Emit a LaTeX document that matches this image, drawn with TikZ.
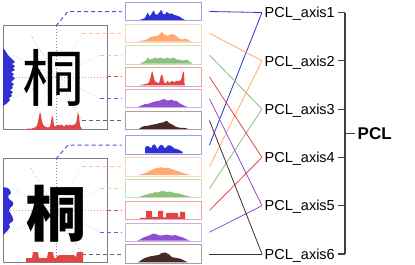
\documentclass[tikz,border=0pt]{standalone}
\usepackage{fontspec}
\setmainfont{Liberation Sans}
\newfontfamily\cjk{Noto Sans CJK SC}
\usetikzlibrary{calc}
\definecolor{cBlue}{HTML}{2F2FD2}
\definecolor{cOrange}{HTML}{FFAA70}
\definecolor{cGreen}{HTML}{8BC17A}
\definecolor{cRed}{HTML}{E04646}
\definecolor{cPurple}{HTML}{8E4FD0}
\definecolor{cBrown}{HTML}{4A2A28}
\newcommand\histo[3]{\begin{scope}[shift={(125,#2+8.4)},yscale=-1]\fill[#1] plot coordinates {#3} -- cycle;\end{scope}}
\begin{document}
\begin{tikzpicture}[x=1pt,y=-1pt,
  histbox/.style={draw, line width=0.9pt, minimum width=76pt, minimum height=18.4pt, inner sep=0pt, anchor=center},
  charbox/.style={draw=black!50, line width=1pt, inner sep=0pt},
  leader/.style={line width=1pt, dash pattern=on 4pt off 3pt},
  ray/.style={line width=0.7pt, dash pattern=on 0.8pt off 2.2pt},
  link/.style={line width=0.8pt},
  axlabel/.style={anchor=west, inner sep=2.5pt, font=\fontsize{14.5}{16}\selectfont, text height=10.4pt, text depth=0pt},
  brk/.style={line width=1.2pt, draw=black!75}]
\useasboundingbox (0,0) rectangle (415,265);

% ---------- top character panel ----------
\node[charbox, minimum width=104pt, minimum height=104.5pt] (ct) at (55,77.25) {};
\draw[ray, cBlue!60] (56,26) -- (56,128);
\draw[ray, cOrange!60] (82,33.3) -- (30,120.5);
\draw[ray, cGreen!60] (100,55.1) -- (12,98.7);
\draw[ray, cRed!60] (107,76.9) -- (5,76.9);
\draw[ray, cPurple!50] (100,98.7) -- (12,55.1);
\draw[ray, cBrown!40] (82,120.5) -- (30,33.3);
\node[font=\cjk\fontsize{62}{62}\selectfont, inner sep=0pt] (gt) at (54,78) {桐};
\fill[cBlue] plot coordinates {(3,48) (5,50) (6,52) (8,55) (11,58) (13,60) (15,62) (12,64) (15,66) (13,68) (15,70) (11,72) (14,74) (12,76) (15,78) (13,80) (11,82) (14,84) (12,86) (13,88) (10,90) (13,92) (11,94) (12,96) (9,98) (10,100) (8,102) (6,104) (3,106)} -- cycle;
\begin{scope}[shift={(0,129.5)},yscale=-1]
\fill[cRed] plot coordinates {(25,0) (28,1) (32,1) (35,2) (37,4) (38,8) (39,13) (40,18) (41,14) (42,8) (43,5) (45,3) (48,2) (50,3) (51,8) (52,14) (53,12) (54,4) (56,3) (58,5) (60,4) (62,5) (64,3) (66,5) (68,4) (70,5) (72,4) (74,5) (76,6) (77,12) (78,17) (79,14) (80,4) (82,0)} -- cycle;
\end{scope}

% ---------- bottom character panel ----------
\node[charbox, minimum width=104pt, minimum height=104pt] (cb) at (55,210) {};
\draw[ray, cBlue!60] (56,159) -- (56,261);
\draw[ray, cOrange!60] (82,166.8) -- (30,254);
\draw[ray, cGreen!60] (100,188.6) -- (12,232.2);
\draw[ray, cRed!60] (107,210.4) -- (5,210.4);
\draw[ray, cPurple!50] (100,232.2) -- (12,188.6);
\draw[ray, cBrown!40] (82,254) -- (30,166.8);
\node[font=\cjk\bfseries\fontsize{60}{60}\selectfont, inner sep=0pt] (gb) at (56,214) {桐};
\begin{scope}[shift={(3,0)}]
\fill[cBlue] plot coordinates {(0,187) (5,188) (7,190) (8,193) (5,196) (6,199) (10,202) (10,205) (7,208) (6,211) (8,214) (10,218) (10,221) (6,224) (7,227) (5,230) (3,232) (0,235)} -- cycle;
\end{scope}
\begin{scope}[shift={(0,262)},yscale=-1]
\fill[cRed] plot coordinates {(26,0) (26,4) (32,4) (33,10) (38,10) (39,4) (47,4) (48,10) (53,10) (54,4) (56,4) (57,6) (60,7) (74,7) (76,5) (77,10) (83,10) (83,0)} -- cycle;
\end{scope}

% ---------- top histograms ----------
\histo{cBlue}{11.5}{(15,0) (18,1) (20,2) (21,4) (22,6) (23,7.5) (24,4) (26,5) (27,7) (28,8.5) (29,9.5) (30,6) (32,5) (34,7) (35,8) (36,10) (37,9) (38,6) (40,5.5) (41,7) (42,8) (43,7) (45,6) (47,6.5) (49,5) (51,4.5) (53,4) (55,3) (57,1.5) (60,0)}
\histo{cOrange}{33.3}{(12,0) (16,1) (20,1.5) (23,3) (26,5) (30,5.5) (33,6) (35,8) (36,9) (37,10) (38,8) (40,7) (42,6) (44,6.5) (46,7) (47,8) (49,7) (51,6) (53,4) (55,3) (57,2) (59,3) (61,3) (63,2) (65,1) (67,0)}
\histo{cGreen}{55.1}{(15,0) (18,1.5) (21,3) (22,5) (23,6) (24,4) (26,4.5) (28,5) (30,6) (32,5) (34,5.5) (36,6) (38,5) (40,5) (42,6) (44,5) (46,5) (48,6) (50,5) (52,4) (54,4) (56,3.5) (58,3) (60,3.5) (62,4) (64,2) (66,1) (67,0)}
\histo{cRed}{76.9}{(15,0) (19,1) (22,1.5) (24,3) (25,6) (26,10) (27,14.5) (28,12) (29,7) (30,4) (32,3) (34,2) (35,6) (36,10) (37,11) (38,8) (39,3) (41,2) (42,4) (43,4.5) (44,2.5) (46,3.5) (47,4.5) (48,4) (50,3) (51,5) (52,4) (54,4.5) (56,5) (57,9) (58,14) (59,13) (59.5,2) (60,0)}
\histo{cPurple}{98.7}{(13,0) (16,1.5) (20,3) (24,3.5) (28,5) (32,6) (35,6.5) (37,7.5) (39,8) (41,7) (43,6.5) (45,7) (47,7.5) (49,6) (51,6.5) (53,5) (56,3) (59,1.5) (63,0)}
\histo{cBrown}{120.5}{(14,0) (17,2) (20,3) (23,3) (26,4) (29,4.5) (32,5) (35,6) (38,6.5) (40,7.5) (42,8) (44,6) (46,5) (48,4) (50,2.5) (53,1.5) (56,1) (60,1) (63,0)}
\node[histbox, draw=cBlue!45] (t1) at (163,11.5) {};
\node[histbox, draw=cOrange!50] (t2) at (163,33.3) {};
\node[histbox, draw=cGreen!50] (t3) at (163,55.1) {};
\node[histbox, draw=cRed!50] (t4) at (163,76.9) {};
\node[histbox, draw=cPurple!45] (t5) at (163,98.7) {};
\node[histbox, draw=cBrown!45] (t6) at (163,120.5) {};

% ---------- bottom histograms ----------
\histo{cBlue}{145}{(20,0) (20,5) (21,7) (23,7.5) (25,6) (26,5) (27,7) (28,8.5) (30,9) (31,7) (32,5) (33,5) (34,7) (36,8.5) (38,8) (39,6) (40,5) (41,6) (43,8) (45,8) (47,7) (49,5) (51,4.5) (53,4) (55,3) (57,2) (58,0)}
\histo{cOrange}{166.8}{(12,0) (16,1) (20,2) (24,4) (28,6) (31,7) (34,7.5) (36,8) (38,7.5) (40,7) (42,7.5) (44,7) (47,6) (50,5) (53,4) (56,3) (59,2) (62,1) (67,0)}
\histo{cGreen}{188.6}{(14,0) (18,1.5) (22,2.5) (25,3.5) (28,4) (30,5) (32,4.5) (35,5.5) (38,6) (40,5.5) (42,5) (44,5.5) (46,5) (48,4.5) (50,4) (53,3.5) (56,3) (59,2) (62,1) (67,0)}
\histo{cRed}{210.4}{(15,0) (15,1) (21,1) (21,8) (27,8) (27,2) (33,2) (33,8) (38,8) (38,1.5) (41,1.5) (41,5) (42,6) (52,6) (53,5) (53,2) (55,2) (55,7) (60,7) (60,0)}
\histo{cPurple}{232.2}{(12,0) (15,1) (18,3) (21,4) (24,5) (27,6.5) (29,7) (31,6.5) (33,5.5) (36,5) (39,5.5) (42,6) (44,5.5) (47,5) (50,5.5) (52,5) (55,4) (58,3) (61,1.5) (65,0)}
\histo{cBrown}{254}{(13,0) (16,2) (19,4) (22,5) (25,6) (28,6.5) (31,7) (34,7.5) (36,9) (38,9.5) (40,10) (42,9) (44,8) (46,6) (48,5) (51,4.5) (54,4) (57,3) (60,1.5) (63,0)}
\node[histbox, draw=cBlue!45] (b1) at (163,145) {};
\node[histbox, draw=cOrange!50] (b2) at (163,166.8) {};
\node[histbox, draw=cGreen!50] (b3) at (163,188.6) {};
\node[histbox, draw=cRed!50] (b4) at (163,210.4) {};
\node[histbox, draw=cPurple!45] (b5) at (163,232.2) {};
\node[histbox, draw=cBrown!45] (b6) at (163,254) {};

% ---------- leaders ----------
\coordinate (pt1) at (56,26);  \coordinate (kt1) at (68,11.5);
\coordinate (pt2) at (82,33.3);
\coordinate (pt3) at (100,55.1);
\coordinate (pt4) at (107,76.9);
\coordinate (pt5) at (100,98.7);
\coordinate (pt6) at (82,120.5);
\draw[leader, cBlue!85] (pt1) -- (kt1) -- ([xshift=-3pt]t1.west);
\draw[leader, cOrange!75] (pt2) -- ([xshift=-3pt]t2.west);
\draw[leader, cGreen!55] (pt3) -- ([xshift=-3pt]t3.west);
\draw[leader, cRed] (pt4) -- ([xshift=-3pt]t4.west);
\draw[leader, cPurple] (pt5) -- ([xshift=-3pt]t5.west);
\draw[leader, cBrown!75] (pt6) -- ([xshift=-3pt]t6.west);
\coordinate (pb1) at (56,159);  \coordinate (kb1) at (68,145);
\coordinate (pb2) at (82,166.8);
\coordinate (pb3) at (100,188.6);
\coordinate (pb4) at (107,210.4);
\coordinate (pb5) at (100,232.2);
\coordinate (pb6) at (82,254);
\draw[leader, cBlue!85] (pb1) -- (kb1) -- ([xshift=-3pt]b1.west);
\draw[leader, cOrange!75] (pb2) -- ([xshift=-3pt]b2.west);
\draw[leader, cGreen!55] (pb3) -- ([xshift=-3pt]b3.west);
\draw[leader, cRed] (pb4) -- ([xshift=-3pt]b4.west);
\draw[leader, cPurple] (pb5) -- ([xshift=-3pt]b5.west);
\draw[leader, cBrown!75] (pb6) -- ([xshift=-3pt]b6.west);

% ---------- axis labels ----------
\node[axlabel] (a1) at (262,12.5) {PCL\_axis1};
\node[axlabel] (a2) at (262,60.8) {PCL\_axis2};
\node[axlabel] (a3) at (262,109.1) {PCL\_axis3};
\node[axlabel] (a4) at (262,157.4) {PCL\_axis4};
\node[axlabel] (a5) at (262,205.7) {PCL\_axis5};
\node[axlabel] (a6) at (262,254) {PCL\_axis6};

% ---------- links ----------
\foreach \i/\c in {1/cBlue,2/cOrange,3/cGreen,4/cRed,5/cPurple,6/cBrown}{
  \coordinate (st\i) at ($(t\i.east)+(8,0)$);
  \coordinate (sb\i) at ($(b\i.east)+(8,0)$);
  \draw[link, \c] (st\i) -- (a\i.west);
  \draw[link, \c] (sb\i) -- (a\i.west);
}

% ---------- bracket ----------
\coordinate (brx) at (345,0);
\foreach \i in {1,...,6}{ \draw[brk] (a\i.east) -- (brx |- a\i); }
\draw[brk] (brx |- a1) -- (brx |- a6);
\node[anchor=west, inner sep=2.5pt, font=\bfseries\fontsize{17}{19}\selectfont, text height=12.2pt, text depth=0pt] (pcl) at (355,133.25) {PCL};
\draw[brk] (brx |- pcl) -- (pcl.west);
\end{tikzpicture}
\end{document}
